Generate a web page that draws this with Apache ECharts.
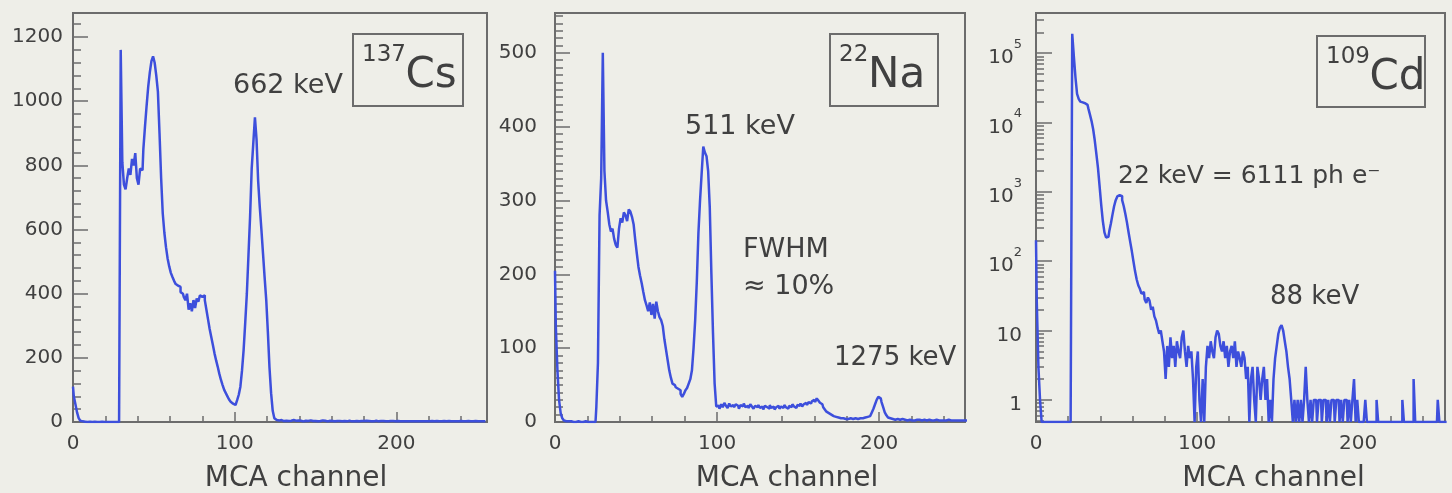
<!DOCTYPE html>
<html>
<head>
<meta charset="utf-8">
<title>MCA spectra</title>
<script src="https://cdn.jsdelivr.net/npm/echarts@6/dist/echarts.min.js"></script>
<style>
  html, body { margin: 0; padding: 0; background: #eeeee8; }
  #chart { width: 1452px; height: 493px; }
</style>
</head>
<body>
<div id="chart"></div>
<script>
  // counts per MCA channel (index = channel)
  const csCounts = [
    110, 80, 55, 30, 12, 4, 2, 1, 1, 0, 1, 0, 0, 1, 0, 0,
    0, 0, 1, 0, 0, 0, 0, 0, 0, 0, 0, 0, 0, 2, 1160, 810,
    740, 725, 760, 790, 770, 820, 800, 838, 760, 740, 790, 785, 850, 920, 985, 1045,
    1090, 1125, 1140, 1120, 1080, 1030, 900, 760, 650, 590, 545, 510, 485, 465, 452, 440,
    430, 425, 421, 405, 400, 390, 380, 400, 350, 370, 345, 380, 355, 385, 375, 395,
    390, 395, 380, 350, 320, 290, 265, 240, 214, 192, 172, 150, 131, 115, 100, 90,
    80, 70, 63, 57, 53, 58, 68, 85, 110, 160, 224, 310, 400, 520, 640, 790,
    870, 950, 880, 750, 670, 600, 525, 450, 380, 280, 170, 90, 35, 12, 6, 5,
    4, 6, 3, 5, 4, 3, 5, 4, 6, 3, 4, 5, 3, 4, 2, 5,
    4, 3, 4, 5, 3, 4, 3, 2, 4, 3, 5, 3, 4, 2, 3, 4,
    3, 4, 2, 3, 4, 3, 2, 4, 3, 2, 3, 4, 2, 3, 2, 3,
    4, 2, 3, 2, 3, 4, 2, 3, 2, 3, 2, 4, 3, 2, 3, 2,
    3, 2, 4, 2, 3, 2, 3, 2, 2, 3, 2, 3, 2, 2, 3, 2,
    2, 3, 2, 2, 3, 2, 2, 3, 2, 2, 3, 2, 2, 2, 3, 2,
    2, 3, 2, 2, 2, 3, 2, 2, 3, 2, 2, 2, 3, 2, 2, 2,
    3, 2, 2, 2, 3, 2, 2, 2, 2, 3, 2, 2, 2, 2, 3, 2
  ];
  const naCounts = [
    205, 130, 70, 30, 12, 5, 2, 1, 1, 0, 1, 0, 0, 0, 1, 0,
    0, 0, 0, 1, 0, 0, 0, 0, 0, 0, 20, 80, 280, 330, 500, 340,
    300, 285, 268, 258, 262, 248, 240, 236, 262, 276, 270, 284, 280, 272, 288, 285,
    278, 268, 247, 228, 210, 198, 188, 176, 165, 158, 150, 162, 145, 160, 140, 163,
    150, 142, 138, 130, 112, 98, 84, 70, 60, 52, 50, 47, 45, 43, 38, 34,
    38, 43, 46, 52, 58, 70, 100, 138, 190, 256, 300, 337, 373, 365, 360, 340,
    291, 201, 120, 52, 21, 22, 18, 24, 20, 26, 22, 19, 25, 21, 23, 20,
    24, 22, 18, 23, 21, 25, 20, 22, 19, 24, 21, 18, 22, 20, 23, 19,
    21, 17, 22, 20, 18, 23, 19, 21, 17, 20, 22, 18, 21, 19, 23, 20,
    18, 22, 20, 24, 21, 19, 23, 22, 25, 21, 24, 26, 23, 27, 25, 28,
    30, 27, 32, 29, 26, 24, 20, 17, 14, 12, 10, 9, 8, 7, 6, 6,
    5, 6, 5, 4, 5, 4, 5, 4, 4, 5, 4, 4, 5, 4, 5, 6,
    6, 7, 8, 10, 13, 18, 24, 30, 34, 32, 27, 20, 13, 9, 6, 5,
    4, 4, 3, 4, 3, 3, 4, 3, 3, 2, 3, 3, 2, 3, 2, 3,
    2, 3, 2, 2, 3, 2, 2, 3, 2, 2, 2, 3, 2, 2, 2, 3,
    2, 2, 2, 3, 2, 2, 2, 2, 3, 2, 2, 2, 2, 2, 3, 2
  ];
  const cdCounts = [
    200, 25, 3, 1, 0, 0, 0, 0, 0, 0, 0, 0, 0, 0, 0, 0,
    0, 0, 0, 0, 0, 0, 0, 190000, 90000, 45000, 26000, 22000, 20000, 19500, 19000, 19000,
    18000, 16000, 13000, 10500, 8000, 5500, 3500, 2200, 1200, 650, 380, 260, 220, 225, 270, 350,
    470, 620, 760, 860, 900, 870, 760, 620, 480, 360, 260, 190, 140, 100, 72, 55,
    45, 40, 34, 36, 28, 25, 30, 27, 20, 22, 16, 14, 11, 9, 10, 7,
    5, 2, 6, 3, 8, 4, 6, 3, 7, 5, 4, 8, 10, 5, 3, 6,
    4, 5, 2, 0, 3, 5, 1, 0, 2, 0, 3, 6, 4, 7, 5, 4,
    8, 10, 9, 6, 5, 7, 4, 6, 3, 5, 6, 4, 7, 3, 5, 4,
    3, 5, 4, 2, 3, 0, 2, 3, 1, 0, 3, 2, 1, 2, 3, 1,
    2, 0, 1, 0, 2, 4, 6, 9, 11, 12, 10, 7, 5, 3, 2, 1,
    0, 1, 0, 1, 0, 1, 0, 1, 3, 1, 0, 1, 0, 1, 1, 0,
    1, 1, 0, 1, 1, 0, 1, 0, 1, 1, 0, 1, 1, 0, 1, 0,
    1, 1, 0, 1, 0, 1, 2, 0, 1, 0, 0, 0, 0, 1, 0, 0,
    0, 0, 0, 0, 1, 0, 0, 0, 0, 0, 0, 0, 0, 0, 0, 0,
    0, 0, 0, 0, 1, 0, 0, 0, 0, 0, 0, 2, 0, 0, 0, 0,
    0, 0, 0, 0, 0, 0, 0, 0, 0, 0, 1, 0, 0, 0, 0, 0
  ];

  const FONT = '"DejaVu Sans", sans-serif';
  const TEXT = '#404040';
  const FRAME = '#6c6c6c';
  const BLUE = '#3d4fdc';
  const LOG_MIN = 0.48;

  const panels = [
    { left: 73, width: 414, xMax: 256, yMax: 1275, yInterval: 200, ySplit: 5, labelMargin: 10, nameShift: 32, counts: csCounts },
    { left: 555, width: 410, xMax: 253, yMax: 554, yInterval: 100, ySplit: 10, labelMargin: 18, nameShift: 54, counts: naCounts },
    { left: 1036, width: 409, xMax: 254, log: true, labelMargin: 14, nameShift: 66, counts: cdCounts }
  ];

  const tickStyle = { color: FRAME, width: 1.5 };
  const labelStyle = { fontSize: 20, color: TEXT, fontFamily: FONT, formatter: v => String(v) };

  const chart = echarts.init(document.getElementById('chart'));

  const option = {
    animation: false,
    backgroundColor: '#eeeee8',
    grid: panels.map(p => ({
      left: p.left, top: 13, width: p.width, height: 409,
      outerBoundsMode: 'none', containLabel: false,
      show: true, borderColor: FRAME, borderWidth: 2, backgroundColor: 'transparent'
    })),
    xAxis: panels.map((p, i) => ({
      gridIndex: i, type: 'value', min: 0, max: p.xMax, interval: 100,
      axisLine: { show: true, lineStyle: { color: FRAME, width: 2 } },
      axisTick: { inside: true, length: 10, lineStyle: tickStyle },
      minorTick: { show: true, splitNumber: 5, length: 6, lineStyle: tickStyle },
      splitLine: { show: false },
      axisLabel: Object.assign({ margin: 12, showMaxLabel: false }, labelStyle),
      name: 'MCA channel', nameLocation: 'middle', nameGap: 43,
      nameTextStyle: { fontSize: 28, color: TEXT, fontFamily: FONT, padding: [0, 0, 0, p.nameShift] }
    })),
    yAxis: panels.map((p, i) => p.log ? {
      gridIndex: i, type: 'log', logBase: 10, min: LOG_MIN, max: 380000,
      axisLine: { show: true, lineStyle: { color: FRAME, width: 2 } },
      axisTick: { inside: true, length: 16, lineStyle: tickStyle },
      minorTick: { show: true, splitNumber: 9, length: 8, lineStyle: tickStyle },
      splitLine: { show: false }, minorSplitLine: { show: false },
      axisLabel: {
        margin: p.labelMargin, showMinLabel: false, showMaxLabel: false,
        formatter: v => {
          const e = Math.round(Math.log10(v));
          if (e === 0) return '{b|1}';
          if (e === 1) return '{b|10}';
          return '{b|10}{s|' + e + '}';
        },
        rich: {
          b: { fontSize: 20, color: TEXT, fontFamily: FONT, padding: [10, 0, 0, 0] },
          s: { fontSize: 13, color: TEXT, fontFamily: FONT, verticalAlign: 'top' }
        }
      }
    } : {
      gridIndex: i, type: 'value', min: 0, max: p.yMax, interval: p.yInterval,
      axisLine: { show: true, lineStyle: { color: FRAME, width: 2 } },
      axisTick: { inside: true, length: 15, lineStyle: tickStyle },
      minorTick: { show: true, splitNumber: p.ySplit, length: 8, lineStyle: tickStyle },
      splitLine: { show: false },
      axisLabel: Object.assign({ margin: p.labelMargin, showMaxLabel: false }, labelStyle)
    }),
    series: panels.map((p, i) => ({
      type: 'line', xAxisIndex: i, yAxisIndex: i,
      step: 'middle', showSymbol: false, silent: true,
      lineStyle: { color: BLUE, width: 2.5 },
      data: p.counts.map((v, ch) => [ch, p.log ? Math.max(v, LOG_MIN) : v])
    })),
    graphic: []
  };

  // annotations
  function note(text, x, y, size) {
    return {
      type: 'text', x: x, y: y, z: 10,
      style: { text: text, font: size + 'px ' + FONT, fill: TEXT, textVerticalAlign: 'middle', verticalAlign: 'middle' }
    };
  }
  function isotopeBox(x, y, w, h, mass, symbol) {
    return [
      { type: 'rect', z: 10, shape: { x: x, y: y, width: w, height: h }, style: { fill: 'none', stroke: FRAME, lineWidth: 2 } },
      note(mass, x + 9, y + 21, 23),
      note(symbol, x + 9 + mass.length * 14.5, y + 42, 42)
    ];
  }

  option.graphic = [
    note('662 keV', 233, 86, 27),
    ...isotopeBox(353, 34, 110, 72, '137', 'Cs'),
    note('511 keV', 685, 127, 27),
    note('FWHM', 743, 250, 27),
    note('≈ 10%', 743, 287, 27),
    note('1275 keV', 834, 358, 26),
    ...isotopeBox(830, 34, 108, 72, '22', 'Na'),
    note('22 keV = 6111 ph e⁻', 1118, 176, 25),
    note('88 keV', 1270, 297, 26),
    ...isotopeBox(1317, 36, 108, 71, '109', 'Cd')
  ];

  chart.setOption(option);
</script>
</body>
</html>
